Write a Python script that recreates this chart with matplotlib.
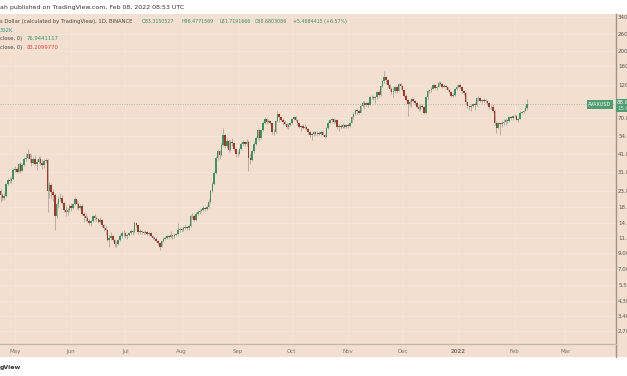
import pandas as pd
import matplotlib
matplotlib.use("Agg")
import matplotlib.pyplot as plt
import matplotlib.dates as mdates
from matplotlib.patches import Rectangle
from matplotlib.lines import Line2D

plt.rcParams["font.family"] = ["DejaVu Sans"]

# daily AVAXUSD candles, 2021-04-22 .. 2022-02-08
start_date = "2021-04-22"
first_open = 24.8
closes = [
    23.5, 21.8, 21.0, 21.5, 26.0, 27.8, 27.2, 28.0, 32.5,  # Apr
    33.0, 31.5, 35.5, 32.0, 35.0, 38.0, 39.0, 41.0, 38.5, 36.0, 38.5, 35.5, 36.5, 38.0, 36.0, 35.0,
    37.0, 37.5, 23.5, 25.5, 23.0, 22.0, 16.0, 19.0, 20.5, 21.0, 19.5, 17.5, 17.0, 17.5, 18.5,  # May
    18.0, 19.0, 20.5, 19.0, 18.0, 18.5, 16.5, 16.0, 15.5, 14.8, 14.3, 14.8, 15.8, 15.5, 15.2,
    14.6, 15.0, 13.8, 13.3, 12.8, 11.0, 11.4, 11.6, 10.9, 10.3, 10.4, 11.0, 11.6, 12.2, 12.3,  # Jun
    11.6, 11.8, 12.2, 12.6, 12.4, 14.3, 13.8, 12.5, 12.6, 12.4, 12.3, 12.5, 12.1, 12.3, 11.7, 11.4,
    11.2, 10.8, 10.5, 9.9, 10.8, 11.2, 11.4, 11.6, 11.5, 11.8, 11.6, 11.9, 12.0, 12.8, 13.0,  # Jul
    12.8, 13.2, 13.5, 13.2, 13.6, 15.8, 15.9, 15.0, 16.5, 16.8, 17.2, 17.5, 18.0, 17.6, 18.2, 19.8,
    23.5, 26.0, 31.0, 39.0, 43.0, 40.5, 47.5, 55.0, 47.0, 50.5, 44.0, 50.0, 49.0, 44.5, 41.0,  # Aug
    41.5, 44.5, 48.5, 49.5, 48.0, 50.0, 39.0, 37.8, 43.0, 48.5, 53.0, 59.5, 52.5, 60.0, 67.0,
    70.5, 67.5, 69.0, 66.5, 58.0, 57.5, 69.0, 76.0, 72.5, 70.0, 68.0, 65.0, 63.0, 64.5, 66.5,  # Sep
    71.0, 72.5, 70.0, 66.0, 62.5, 63.5, 61.5, 63.0, 61.0, 57.5, 55.5, 56.5, 57.5, 55.8, 57.0, 56.5,
    57.5, 55.5, 54.0, 61.5, 66.5, 69.5, 70.5, 68.0, 70.0, 62.5, 63.5, 63.0, 64.5, 63.0, 64.5,  # Oct
    63.5, 67.0, 73.0, 76.5, 81.0, 79.5, 78.0, 86.0, 90.5, 88.0, 91.0, 88.0, 98.5, 99.5, 97.0,
    99.0, 107.0, 102.0, 118.0, 126.0, 134.0, 128.0, 119.0, 112.0, 107.0, 108.0, 115.0, 109.0, 121.0, 117.5,  # Nov
    110.0, 100.0, 95.0, 88.5, 92.0, 95.5, 93.0, 90.5, 85.0, 82.0, 87.0, 85.5, 78.0, 99.0, 108.0, 110.5,
    113.0, 118.5, 114.0, 116.0, 123.0, 121.0, 116.5, 118.0, 115.0, 110.0, 107.0, 101.5, 103.0, 112.0, 116.0,  # Dec
    119.0, 115.0, 108.0, 105.0, 92.0, 87.0, 84.5, 86.0, 89.0, 88.0, 97.0, 97.5, 93.0, 95.0, 93.5, 94.0,
    90.0, 85.5, 85.0, 80.0, 67.0, 62.0, 66.5, 65.0, 66.0, 67.5, 69.5, 68.5, 73.0, 72.0, 73.5,  # Jan
    74.0, 70.0, 71.0, 78.0, 78.5, 80.5, 83.3150527, 88.6803086,  # Feb
]
highs = [
    25.6, 24.0, 22.5, 22.6, 26.5, 28.6, 29.0, 28.8, 33.2,
    34.5, 33.8, 36.2, 36.5, 36.0, 39.5, 42.0, 44.5, 42.0, 41.0, 39.5, 40.5, 38.0, 40.0, 39.8, 38.5,
    38.2, 39.0, 38.0, 27.0, 26.5, 24.0, 22.5, 19.8, 21.5, 22.5, 21.8, 19.8, 18.6, 18.0, 19.2,
    19.3, 19.5, 21.2, 20.8, 19.6, 19.0, 19.0, 16.8, 16.6, 16.0, 15.2, 15.0, 16.2, 16.5, 16.0,
    15.5, 15.6, 15.2, 14.0, 13.6, 13.0, 11.8, 12.4, 11.9, 11.2, 10.8, 11.2, 12.0, 12.7, 12.8,
    12.4, 12.0, 12.5, 13.0, 12.9, 14.8, 14.6, 13.9, 13.0, 12.9, 12.7, 12.9, 12.6, 12.5, 12.4, 11.9,
    11.6, 11.5, 11.0, 10.6, 11.0, 11.5, 11.6, 11.9, 11.8, 12.6, 11.9, 12.2, 12.3, 14.2, 13.4,
    13.3, 13.6, 13.9, 13.7, 14.0, 16.2, 16.6, 16.2, 16.9, 17.3, 17.8, 18.0, 18.5, 18.3, 18.7, 20.5,
    24.2, 27.0, 32.0, 40.0, 44.5, 44.0, 49.0, 62.0, 56.0, 52.5, 51.5, 51.0, 52.5, 50.0, 45.5,
    43.0, 45.5, 49.5, 51.0, 50.5, 52.0, 51.5, 41.0, 44.0, 50.0, 54.5, 61.0, 60.5, 61.0, 68.5,
    72.5, 72.0, 71.0, 70.0, 67.0, 61.0, 70.0, 79.5, 77.5, 74.0, 71.5, 70.0, 66.5, 66.0, 68.0,
    72.0, 74.0, 73.5, 70.5, 67.0, 64.5, 65.0, 65.0, 63.5, 62.0, 58.5, 57.5, 58.5, 59.0, 58.5, 58.5,
    58.5, 58.5, 56.5, 62.5, 68.5, 71.0, 72.0, 71.5, 71.0, 70.5, 65.0, 65.5, 66.0, 65.5, 65.5,
    66.0, 68.0, 74.5, 78.5, 82.5, 82.0, 81.0, 87.5, 93.0, 94.0, 92.5, 92.0, 100.5, 102.5, 101.0,
    101.0, 109.0, 110.0, 120.0, 129.0, 147.0, 138.0, 130.0, 121.0, 116.0, 115.0, 117.0, 117.5, 123.0, 124.0,
    120.0, 111.0, 104.0, 96.0, 95.0, 97.5, 98.0, 95.0, 92.0, 88.0, 88.5, 89.0, 86.5, 101.0, 110.0, 113.0,
    116.5, 121.0, 120.5, 118.0, 127.0, 126.0, 123.5, 121.0, 120.0, 116.5, 112.5, 108.0, 106.0, 114.0, 119.0,
    121.0, 120.5, 116.0, 110.0, 106.5, 93.0, 88.0, 88.5, 91.0, 91.5, 98.5, 101.0, 99.0, 96.5, 97.0, 96.0,
    95.0, 90.5, 88.0, 89.5, 81.0, 68.5, 68.0, 67.0, 69.0, 71.0, 72.0, 71.0, 74.0, 74.5, 75.0,
    76.0, 75.0, 72.0, 79.5, 80.5, 81.5, 86.0, 96.4771569,
]
lows = [
    22.6, 19.8, 20.3, 20.2, 21.2, 25.5, 26.5, 26.4, 27.8,
    31.5, 30.8, 31.2, 31.0, 31.6, 34.5, 37.0, 38.0, 36.5, 34.5, 35.2, 34.8, 32.5, 35.8, 35.0, 33.0,
    33.5, 36.0, 17.0, 21.0, 20.5, 20.0, 12.8, 15.5, 18.0, 20.0, 19.0, 16.8, 15.8, 16.2, 16.8,
    17.2, 17.6, 18.8, 17.8, 17.4, 17.6, 16.2, 14.6, 14.8, 14.4, 13.8, 13.6, 14.5, 15.0, 14.8,
    14.2, 14.3, 13.5, 12.7, 11.9, 10.8, 9.8, 11.0, 10.6, 9.9, 9.8, 10.1, 10.8, 11.4, 11.6,
    11.3, 11.2, 11.6, 12.0, 11.9, 12.3, 13.5, 12.1, 12.1, 12.1, 12.0, 12.0, 11.8, 11.6, 11.5, 11.2,
    11.0, 10.6, 10.2, 9.4, 9.8, 10.6, 11.0, 11.2, 11.1, 11.4, 11.1, 11.4, 11.7, 11.8, 12.5,
    12.5, 12.6, 13.0, 12.9, 12.9, 13.5, 15.2, 14.7, 14.8, 16.1, 16.5, 16.8, 17.2, 17.2, 17.3, 18.0,
    19.5, 23.0, 25.5, 30.5, 37.5, 38.0, 40.0, 46.5, 45.5, 45.0, 42.5, 43.5, 47.0, 43.0, 39.5,
    39.5, 41.0, 43.8, 47.0, 46.8, 47.0, 32.0, 35.5, 37.0, 42.0, 47.5, 52.0, 50.5, 52.0, 59.0,
    65.5, 65.0, 66.5, 64.5, 56.0, 55.0, 57.0, 68.0, 68.0, 68.5, 64.5, 64.0, 61.5, 61.0, 63.5,
    65.5, 69.5, 68.5, 64.0, 61.5, 59.0, 60.5, 61.0, 60.0, 56.5, 53.5, 51.5, 54.5, 55.0, 54.5, 55.5,
    55.0, 54.5, 53.0, 53.5, 60.5, 65.0, 67.5, 66.0, 67.0, 61.0, 58.5, 60.5, 62.0, 62.0, 61.5,
    61.5, 63.0, 66.0, 71.0, 75.5, 76.0, 76.5, 77.5, 84.5, 83.0, 86.5, 85.5, 87.5, 95.5, 94.5,
    91.0, 96.5, 99.0, 100.5, 115.0, 124.0, 121.0, 114.0, 108.0, 104.0, 99.0, 106.0, 105.0, 108.0, 113.0,
    108.0, 98.5, 93.0, 74.0, 86.5, 85.0, 91.5, 88.0, 84.0, 80.5, 81.0, 83.5, 76.0, 77.0, 95.0, 106.0,
    107.0, 112.0, 112.0, 110.0, 115.0, 118.5, 114.0, 115.0, 113.0, 108.0, 105.0, 99.5, 99.0, 101.0, 110.0,
    114.0, 113.0, 106.0, 102.0, 88.0, 84.0, 81.0, 80.5, 85.0, 81.5, 87.0, 94.0, 91.5, 90.0, 92.0, 91.0,
    87.5, 82.0, 82.5, 78.5, 64.5, 57.0, 60.5, 55.0, 62.5, 64.0, 64.5, 66.5, 68.0, 70.5, 70.0,
    71.5, 69.5, 67.5, 70.5, 77.0, 77.5, 79.5, 81.7191666,
]

month_ticks = pd.date_range("2021-05-01", "2022-03-01", freq="MS")
month_labels = ["May", "Jun", "Jul", "Aug", "Sep", "Oct", "Nov", "Dec", "2022", "Feb", "Mar"]

# right price scale, as placed in the screenshot (labels are cut by the image edge)
tick_prices = [340, 260, 200, 160, 120, 72, 54.5, 41.5, 31.5, 23.5, 18.2, 14.3, 11.3, 9.0, 7.0, 5.5, 4.3, 3.4, 2.7]
tick_labels = ["340.000", "260.000", "200.000", "160.000", "120.000", "70.0000", "54.0000", "41.0000",
               "31.0000", "23.0000", "18.0000", "14.0000", "11.0000", "9.00000", "7.00000", "5.50000",
               "4.30000", "3.40000", "2.70000"]

last_close = closes[-1]

W, H = 627, 376
BG = "#f2dfcf"
UP = "#3a945f"
DOWN = "#a0382c"
WICK = "#b3a9a0"


def fx(x):
    return x / W


def fy(y):
    return 1 - y / H


dates = pd.date_range(start_date, periods=len(closes), freq="D")
x = mdates.date2num(dates)
opens = [first_open] + closes[:-1]

fig = plt.figure(figsize=(W / 100, H / 100), dpi=100, facecolor="white")
fig.patches.append(Rectangle((0, fy(357)), 1, fy(14) - fy(357), transform=fig.transFigure,
                             facecolor=BG, edgecolor="none", zorder=-5))

ax = fig.add_axes([0, fy(343), fx(615), fy(14) - fy(343)])
ax.set_facecolor(BG)
ax.set_yscale("log")

may1 = mdates.date2num(pd.Timestamp("2021-05-01"))
ax.set_xlim(may1 - 8.3, may1 + 331.5)
ax.set_ylim(2.25, 356)

ax.vlines(x, lows, highs, color=WICK, lw=0.65, zorder=2)
bottoms = [min(o, c) for o, c in zip(opens, closes)]
heights = [max(abs(c - o), 0.006 * c) for o, c in zip(opens, closes)]
colors = [UP if c >= o else DOWN for o, c in zip(opens, closes)]
ax.bar(x, heights, bottom=bottoms, width=0.85, color=colors, linewidth=0, zorder=3)

ax.axhline(last_close, color="#b9b4a6", lw=0.7, ls=(0, (1, 1.5)), zorder=1)

ax.set_xticks(mdates.date2num(month_ticks), month_labels)
ax.set_yticks(tick_prices, tick_labels)
ax.yaxis.set_minor_locator(plt.NullLocator())
ax.yaxis.tick_right()
ax.tick_params(axis="x", length=0, pad=4.2, labelsize=4, labelcolor="#7a7470")
ax.tick_params(axis="y", length=0, pad=2.2, labelsize=4, labelcolor="#5a5550")
for lab in ax.get_xticklabels():
    if lab.get_text() == "2022":
        lab.set_fontweight("bold")
ax.grid(True, color="#f5e6d9", lw=0.6)
ax.set_axisbelow(True)
for s in ax.spines.values():
    s.set_visible(False)

# axis separators
fig.lines.append(Line2D([fx(615.5), fx(615.5)], [fy(14), fy(357)], transform=fig.transFigure,
                        color="#9d948c", lw=1.0))
fig.lines.append(Line2D([0, fx(615.5)], [fy(343.5), fy(343.5)], transform=fig.transFigure,
                        color="#c4b6a8", lw=0.9))

# last price tags
fig.patches.append(Rectangle((fx(587), fy(108.5)), fx(26), fy(99.5) - fy(108.5), transform=fig.transFigure,
                             facecolor="#4f9d72", edgecolor="none", zorder=5))
fig.text(fx(600), fy(104), "AVAXUSD", fontsize=3.6, color="white", ha="center", va="center", zorder=6)
fig.patches.append(Rectangle((fx(616), fy(112)), fx(12), fy(98.5) - fy(112), transform=fig.transFigure,
                             facecolor="#4f9d72", edgecolor="none", zorder=5))
fig.text(fx(617), fy(103), "88.680", fontsize=4, color="white", va="center", zorder=6)
fig.text(fx(617), fy(108.5), "15:06:42", fontsize=4, color="#d8eee0", va="center", zorder=6)

# header and legend
fig.text(fx(0), fy(7), "ah published on TradingView.com, Feb 08, 2022 08:53 UTC",
         fontsize=4.5, color="#333333", va="center")
fig.text(fx(0), fy(21.7), "s Dollar (calculated by TradingView), 1D, BINANCE",
         fontsize=3.75, color="#4a4642", va="center")
ohlc = [(142, "O83.3150527"), (181, "H96.4771569"), (220, "L81.7191666"),
        (255, "C88.6803086"), (293, "+5.4684415 (+6.57%)")]
for px, t in ohlc:
    fig.text(fx(px), fy(21.7), t, fontsize=3.45, color="#3c8f5c", va="center")
fig.text(fx(0), fy(30), "302K", fontsize=3.75, color="#2f9c86", va="center")
fig.text(fx(0), fy(38.7), "close, 0)", fontsize=3.75, color="#4a4642", va="center")
fig.text(fx(27), fy(38.7), "76.9441117", fontsize=3.75, color="#2f9a5e", va="center")
fig.text(fx(0), fy(47.7), "close, 0)", fontsize=3.75, color="#4a4642", va="center")
fig.text(fx(27), fy(47.7), "83.2099770", fontsize=3.75, color="#e2473c", va="center")

fig.text(fx(0), fy(368), "gView", fontsize=4.5, color="#333333", fontweight="bold", va="center")

fig.savefig("out.png", dpi=100, facecolor="white")
